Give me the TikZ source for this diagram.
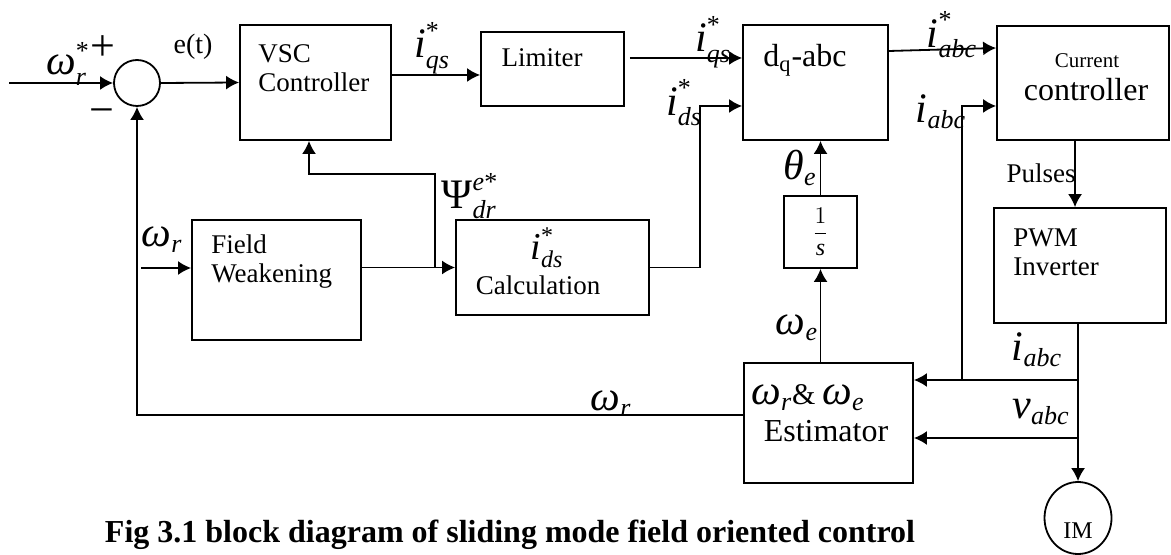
\documentclass[tikz,border=0pt]{standalone}
\usepackage{amsmath}
\usepackage{fontspec}
\setmainfont{Liberation Serif}
\usetikzlibrary{arrows.meta,shapes.geometric}

\DeclareMathSizes{21}{21}{13}{10}
\DeclareMathSizes{19}{19}{12}{9}
\newcommand\sym[1]{\textit{#1}}

\begin{document}
\begin{tikzpicture}[x=0.5pt, y=-0.5pt,
    blk/.style 2 args={draw, line width=0.9pt, minimum width=#1*0.5pt, minimum height=#2*0.5pt, inner sep=0pt},
    sig/.style={line width=0.9pt, -{Latex[length=6.5pt,width=7pt]}},
    txt/.style={font=\fontsize{13.5}{14.5}\selectfont, inner sep=0pt},
    mth/.style={font=\fontsize{21}{24}\selectfont, inner sep=0pt},
]
\useasboundingbox (0,0) rectangle (1171,555);

% blocks
\node[draw, circle, line width=0.9pt, minimum size=23pt, inner sep=0pt] (sum) at (137,83) {};
\node[blk={151}{115}] (vsc) at (315.5,82.5) {};
\node[blk={143}{74}] (lim) at (552.5,69) {};
\node[blk={145}{115}] (dq) at (815.5,82.5) {};
\node[blk={172}{114}] (cc) at (1083,83) {};
\node[blk={169}{120}] (fw) at (276.5,280) {};
\node[blk={193}{95}] (calc) at (552.5,267.5) {};
\node[blk={73}{72}] (integ) at (820.5,232) {};
\node[blk={172}{115}] (pwm) at (1080,265.5) {};
\node[blk={169}{120}] (est) at (828.5,423) {};
\node[draw, ellipse, line width=0.9pt, minimum width=33.5pt, minimum height=36pt, inner sep=0pt] (im) at (1078,518) {};

% block texts
\node[txt, align=left, anchor=west] (vsctxt) at (258,68) {VSC\\Controller};
\node[txt] (limtxt) at (542,58) {Limiter};
\node[txt, font=\fontsize{16}{18}\selectfont] (dqtxt) at (805,60) {d\textsubscript{q}-abc};
\node[txt, font=\fontsize{10.5}{12}\selectfont] (cctxt) at (1087,61) {Current};
\node[txt, font=\fontsize{16}{18}\selectfont] (cctxt2) at (1086,90) {controller};
\node[txt, align=left, anchor=west] (fwtxt) at (211,262) {Field\\Weakening};
\node[mth, font=\fontsize{19}{21}\selectfont] (calcsym) at (547,248) {$\sym{i}^{\text{*}}_{\sym{ds}}$};
\node[txt] (calctxt) at (538,285) {Calculation};
\node[txt, font=\fontsize{12}{14}\selectfont] (integtxt) at (820.5,232) {$\dfrac{1}{\sym{s}}$};
\node[txt, align=left, anchor=west] (pwmtxt) at (1013,252) {PWM\\Inverter};
\node[mth] (esttop) at (808,398) {$\sym{ω}_{\sym{r}}${\fontsize{15}{17}\selectfont\&}\,$\sym{ω}_{\sym{e}}$};
\node[txt, font=\fontsize{16}{18}\selectfont] (esttxt) at (826,431) {Estimator};
\node[txt, font=\fontsize{12}{14}\selectfont] (imtxt) at (1078,531) {IM};

% signals
\draw[sig] ([xshift=-52pt]sum.west) -- (sum.west);
\draw[sig] (sum.east) -- (vsc.west);
\draw[sig] ([yshift=3.75pt]vsc.east) -- ([yshift=-3pt]lim.west);
\draw[sig] ([xshift=2.5pt,yshift=5.5pt]lim.east) -- ([yshift=12.25pt]dq.west);
\draw[sig] ([yshift=15.75pt]dq.east) -- ([yshift=17.5pt]cc.west);
\draw[sig] ([xshift=-4pt]cc.south) -- ([xshift=-4pt]cc.south |- pwm.north);
\draw[sig] ([xshift=-25pt,yshift=6pt]fw.west) -- ([yshift=6pt]fw.west);
\draw[sig] (fw.east |- calc.west) -- (calc.west);
\draw[sig] (calc.east) -- ++(50,0) |- ([yshift=-11.75pt]dq.west);
\coordinate (br) at (435,267.5);
\draw[sig] (br) -- ++(0,-93.5) -| ([xshift=-3.25pt]vsc.south);
\draw[sig] (integ.north) -- (integ.north |- dq.south);
\draw[sig] (integ.south |- est.north) -- (integ.south);

% measurements back to the estimator
\coordinate (ti) at (1078,380);
\coordinate (tv) at (1078,438);
\coordinate (tb) at (962,380);
\draw[sig] (pwm.south -| im.north) -- (im.north);
\draw[sig] (ti) -- (ti -| est.east);
\draw[sig] (tv) -- (tv -| est.east);
\draw[sig] (tb) |- ([yshift=-11.5pt]cc.west);

% speed feedback
\draw[sig] ([yshift=4pt]est.west) -| (sum.south);

% labels
\node[mth] (wref) at (68,64) {$\sym{ω}_{\sym{r}}^{\text{*}}$};
\node[inner sep=0pt, font=\fontsize{22}{24}\selectfont] (plus) at (103,48) {+};
\node[inner sep=0pt, font=\fontsize{22}{24}\selectfont] (minus) at (102,117) {−};
\node[txt, font=\fontsize{14}{16}\selectfont] (err) at (193,47) {e(t)};
\node[mth] (iqs) at (432,48) {$\sym{i}^{\text{*}}_{\sym{qs}}$};
\node[mth] (iqslim) at (713,42) {$\sym{i}^{\text{*}}_{\sym{qs}}$};
\node[mth] (ids) at (684,103) {$\sym{i}^{\text{*}}_{\sym{ds}}$};
\node[mth] (iabcref) at (952,35) {$\sym{i}^{\text{*}}_{\sym{abc}}$};
\node[mth] (iabcfb) at (941,112) {$\sym{i}_{\sym{abc}}$};
\node[mth] (the) at (800,168) {$\sym{θ}_{\sym{e}}$};
\node[txt] (puls) at (1041,173) {Pulses};
\node[mth] (psi) at (470,196) {$\text{Ψ}^{\sym{e}\text{*}}_{\sym{dr}}$};
\node[mth] (wrfw) at (162,240) {$\sym{ω}_{\sym{r}}$};
\node[mth] (we) at (797,328) {$\sym{ω}_{\sym{e}}$};
\node[mth] (wrfb) at (611,404) {$\sym{ω}_{\sym{r}}$};
\node[mth] (iabc) at (1037,350) {$\sym{i}_{\sym{abc}}$};
\node[mth] (vabc) at (1041,412) {$\sym{v}_{\sym{abc}}$};

% caption
\node[inner sep=0pt, font=\fontsize{16}{18}\bfseries] (cap) at (510,535) {Fig 3.1 block diagram of sliding mode field oriented control};
\end{tikzpicture}
\end{document}
